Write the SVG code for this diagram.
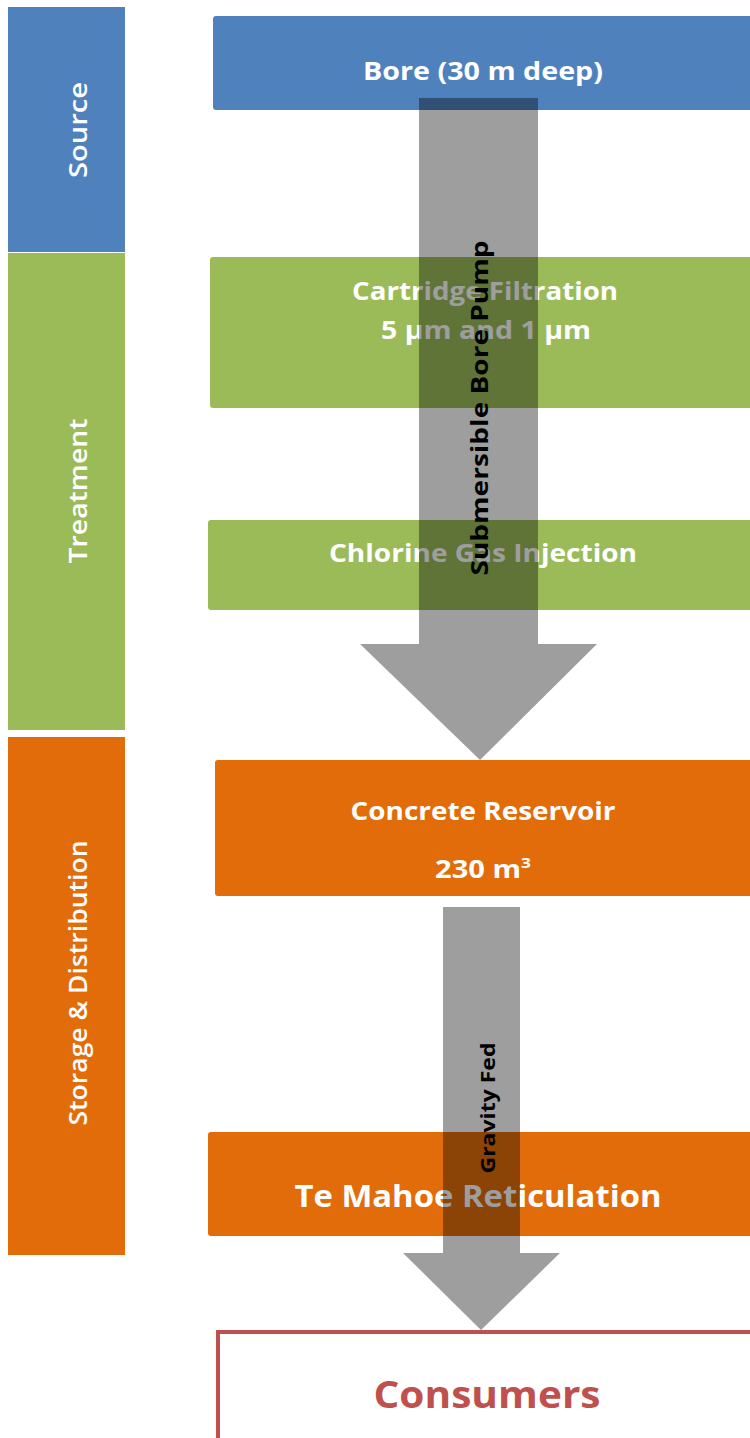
<svg xmlns="http://www.w3.org/2000/svg" width="750" height="1438" viewBox="0 0 750 1438">
<style>
.t{font-family:"Open Sans","Liberation Sans",sans-serif;fill:#fff;text-anchor:middle}
.b{font-weight:bold}
.band{font-size:26px;font-weight:600}
.arrow{fill:#000;fill-opacity:0.38}
.al{font-family:"Open Sans","Liberation Sans",sans-serif;font-weight:bold;fill:#000;text-anchor:middle}
</style>
<rect width="750" height="1438" fill="#fff"/>
<g id="band-source"><rect x="8" y="7" width="117" height="245" fill="#4f81bd"/><text class="t band" transform="translate(87,130) rotate(-90)" textLength="96" lengthAdjust="spacingAndGlyphs">Source</text></g>
<g id="band-treatment"><rect x="8" y="253" width="117" height="477" fill="#9bbb59"/><text class="t band" transform="translate(87,491) rotate(-90)" textLength="145" lengthAdjust="spacingAndGlyphs">Treatment</text></g>
<g id="band-storage"><rect x="8" y="737" width="117" height="518" fill="#e36c0a"/><text class="t band" transform="translate(87,983) rotate(-90)" textLength="285" lengthAdjust="spacingAndGlyphs">Storage &amp; Distribution</text></g>
<g id="bore"><rect x="213" y="16" width="545" height="94" rx="3" fill="#4f81bd"/><text class="t b" x="483" y="80" font-size="25" textLength="240" lengthAdjust="spacingAndGlyphs">Bore (30 m deep)</text></g>
<g id="cartridge"><rect x="210" y="257" width="548" height="151" rx="3" fill="#9bbb59"/><text class="t b" x="485" y="300" font-size="25" textLength="266" lengthAdjust="spacingAndGlyphs">Cartridge Filtration</text><text class="t b" x="486" y="339" font-size="25" textLength="210" lengthAdjust="spacingAndGlyphs">5 µm and 1 µm</text></g>
<g id="chlorine"><rect x="208" y="520" width="550" height="90" rx="3" fill="#9bbb59"/><text class="t b" x="483" y="562" font-size="25" textLength="308" lengthAdjust="spacingAndGlyphs">Chlorine Gas Injection</text></g>
<g id="reservoir"><rect x="215" y="760" width="543" height="136" rx="3" fill="#e36c0a"/><text class="t b" x="483" y="820" font-size="25" textLength="265" lengthAdjust="spacingAndGlyphs">Concrete Reservoir</text><text class="t b" x="483" y="878" font-size="25" textLength="96" lengthAdjust="spacingAndGlyphs">230 m<tspan font-size="15" dy="-10">3</tspan></text></g>
<g id="reticulation"><rect x="208" y="1132" width="550" height="104" rx="3" fill="#e36c0a"/><text class="t b" x="478" y="1207" font-size="31" textLength="367" lengthAdjust="spacingAndGlyphs">Te Mahoe Reticulation</text></g>
<g id="consumers"><rect x="218" y="1332" width="540" height="120" fill="#fff" stroke="#c0504d" stroke-width="4"/><text class="b" x="487" y="1408" font-size="37" font-family="'Open Sans','Liberation Sans',sans-serif" fill="#c0504d" text-anchor="middle" textLength="227" lengthAdjust="spacingAndGlyphs">Consumers</text></g>
<g id="connectors">
<g id="pump-arrow"><path class="arrow" d="M419,98 H538 V644 H597 L480,760 L360,644 H419 Z"/><text class="al" transform="translate(488,408) rotate(-90)" font-size="24" textLength="335" lengthAdjust="spacingAndGlyphs">Submersible Bore Pump</text></g>
<g id="gravity-arrow"><path class="arrow" d="M443,907 H520 V1253 H560 L481,1330 L403,1253 H443 Z"/><text class="al" transform="translate(495,1108) rotate(-90)" font-size="20" textLength="131" lengthAdjust="spacingAndGlyphs">Gravity Fed</text></g>
</g>
</svg>
